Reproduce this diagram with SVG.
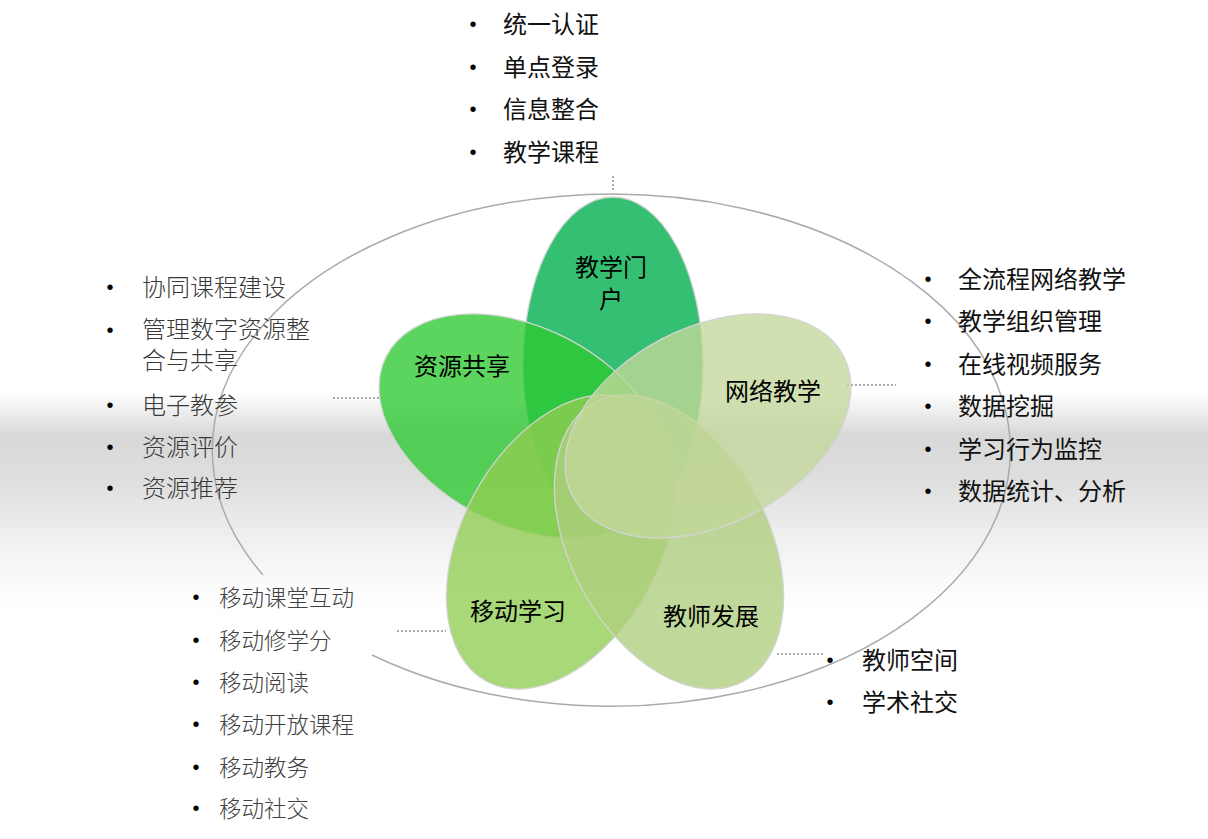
<svg xmlns="http://www.w3.org/2000/svg" width="1208" height="839" viewBox="0 0 1208 839">
<defs>
<linearGradient id="band" x1="0" y1="0" x2="0" y2="1">
<stop offset="0" stop-color="#ffffff"/>
<stop offset="0.19" stop-color="#d8d8d8"/>
<stop offset="0.41" stop-color="#dfdfdf"/>
<stop offset="0.63" stop-color="#eeeeee"/>
<stop offset="0.86" stop-color="#fbfbfb"/>
<stop offset="1" stop-color="#ffffff"/>
</linearGradient>
</defs>
<style>
.petal{stroke:#d4d4d4;stroke-width:1.3}
.lbl{font-family:"Noto Sans CJK SC",sans-serif;font-size:24px;fill:#000;text-anchor:middle}
.li{font-family:"Noto Sans CJK SC",sans-serif;font-size:24px;fill:#111}
.lig{font-family:"Noto Sans CJK SC",sans-serif;font-size:24px;fill:#383838;font-weight:300}
.lis{font-family:"Noto Sans CJK SC",sans-serif;font-size:22.5px;fill:#404040;font-weight:300}
.bul{font-family:"Liberation Sans",sans-serif;font-size:20px;fill:#000;text-anchor:middle}
.dot{stroke:#aaaaaa;stroke-width:2;stroke-dasharray:2 2;fill:none}
</style>
<rect x="0" y="0" width="1208" height="839" fill="#ffffff"/>
<rect x="0" y="393" width="1208" height="222" fill="url(#band)"/>
<path id="ring" d="M372,655 A399,256 0 1 0 263,575" fill="none" stroke="#aaaaaa" stroke-width="1.5"/>
<g id="connectors">
<line class="dot" x1="613" y1="176" x2="613" y2="191"/>
<line class="dot" x1="847" y1="385" x2="896" y2="385"/>
<line class="dot" x1="333" y1="398" x2="382" y2="398"/>
<line class="dot" x1="397" y1="631" x2="446" y2="631"/>
<line class="dot" x1="777" y1="654" x2="825" y2="654"/>
</g>
<g id="petal-portal">
<ellipse class="petal" cx="613" cy="365" rx="90" ry="168" fill="#35bf72"/>
</g>
<g id="petal-resource">
<ellipse class="petal" cx="522" cy="426" rx="152.5" ry="98.6" transform="rotate(27.2 522 426)" fill="rgb(46,201,49)" fill-opacity="0.78"/>
</g>
<g id="petal-mobile">
<ellipse class="petal" cx="561" cy="542" rx="99" ry="158" transform="rotate(28 561 542)" fill="rgb(145,205,82)" fill-opacity="0.78"/>
</g>
<g id="petal-teacher">
<ellipse class="petal" cx="669" cy="542" rx="99" ry="158" transform="rotate(-28 669 542)" fill="rgb(174,206,126)" fill-opacity="0.78"/>
</g>
<g id="petal-network">
<ellipse class="petal" cx="708" cy="426" rx="152.5" ry="98.6" transform="rotate(-27.2 708 426)" fill="rgb(195,215,154)" fill-opacity="0.78"/>
</g>
<g id="labels">
<text class="lbl" x="611" y="276">教学门</text>
<text class="lbl" x="611" y="308">户</text>
<text class="lbl" x="462" y="375">资源共享</text>
<text class="lbl" x="773" y="400">网络教学</text>
<text class="lbl" x="518" y="620">移动学习</text>
<text class="lbl" x="711" y="625">教师发展</text>
</g>
<g id="list-portal">
<text class="bul" x="473" y="31">•</text><text class="li" x="503" y="33">统一认证</text>
<text class="bul" x="473" y="74">•</text><text class="li" x="503" y="76">单点登录</text>
<text class="bul" x="473" y="116">•</text><text class="li" x="503" y="118">信息整合</text>
<text class="bul" x="473" y="159">•</text><text class="li" x="503" y="161">教学课程</text>
</g>
<g id="list-network">
<text class="bul" x="928" y="286">•</text><text class="li" x="958" y="288">全流程网络教学</text>
<text class="bul" x="928" y="328">•</text><text class="li" x="958" y="330">教学组织管理</text>
<text class="bul" x="928" y="371">•</text><text class="li" x="958" y="373">在线视频服务</text>
<text class="bul" x="928" y="413">•</text><text class="li" x="958" y="415">数据挖掘</text>
<text class="bul" x="928" y="456">•</text><text class="li" x="958" y="458">学习行为监控</text>
<text class="bul" x="928" y="498">•</text><text class="li" x="958" y="500">数据统计、分析</text>
</g>
<g id="list-resource">
<text class="bul" x="110" y="294">•</text><text class="lig" x="142" y="296">协同课程建设</text>
<text class="bul" x="110" y="337">•</text><text class="lig" x="142" y="338">管理数字资源整</text>
<text class="lig" x="142" y="369">合与共享</text>
<text class="bul" x="110" y="412">•</text><text class="lig" x="142" y="414">电子教参</text>
<text class="bul" x="110" y="454">•</text><text class="lig" x="142" y="456">资源评价</text>
<text class="bul" x="110" y="495">•</text><text class="lig" x="142" y="497">资源推荐</text>
</g>
<g id="list-mobile">
<text class="bul" x="196" y="604">•</text><text class="lis" x="219" y="606">移动课堂互动</text>
<text class="bul" x="196" y="647">•</text><text class="lis" x="219" y="649">移动修学分</text>
<text class="bul" x="196" y="689">•</text><text class="lis" x="219" y="691">移动阅读</text>
<text class="bul" x="196" y="731">•</text><text class="lis" x="219" y="733">移动开放课程</text>
<text class="bul" x="196" y="774">•</text><text class="lis" x="219" y="776">移动教务</text>
<text class="bul" x="196" y="815">•</text><text class="lis" x="219" y="817">移动社交</text>
</g>
<g id="list-teacher">
<text class="bul" x="830" y="667">•</text><text class="li" x="862" y="669">教师空间</text>
<text class="bul" x="830" y="709">•</text><text class="li" x="862" y="711">学术社交</text>
</g>
</svg>
